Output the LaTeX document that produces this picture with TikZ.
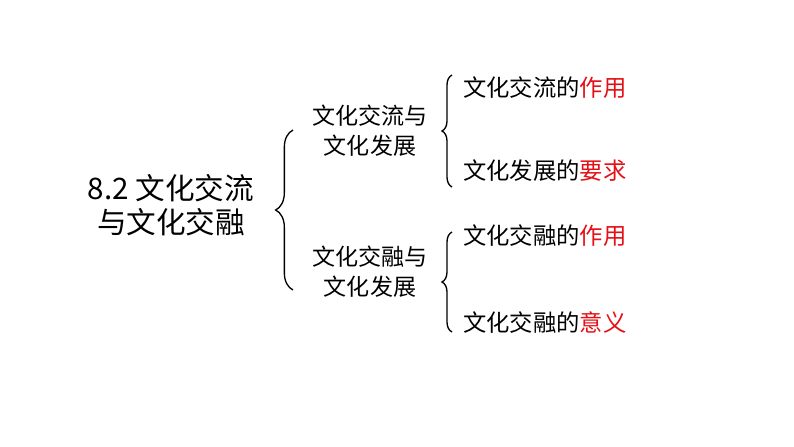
\documentclass[tikz,border=0pt]{standalone}
\usepackage{fontspec}
\setmainfont{Noto Sans CJK SC}
\usetikzlibrary{decorations.pathreplacing}
\definecolor{hl}{RGB}{228,16,22}
\tikzset{
  bigtxt/.style={align=center,inner sep=0pt,font=\fontsize{22.2}{25.5}\selectfont},
  midtxt/.style={align=center,inner sep=0pt,font=\fontsize{17.3}{22.5}\selectfont},
  leaftxt/.style={anchor=west,inner sep=0pt,font=\fontsize{17.5}{20}\selectfont},
  bigbrace/.style={draw,line width=1pt,decorate,decoration={brace,amplitude=13pt}},
  smallbrace/.style={draw,line width=1pt,decorate,decoration={brace,amplitude=7.5pt}}
}
\begin{document}
\begin{tikzpicture}[x=0.75pt,y=-0.75pt]
\useasboundingbox (0,0) rectangle (794,447);
\node[bigtxt] (root) at (171,205) {8.2 文化交流\\与文化交融};
\node[midtxt] (m1) at (370,131) {文化交流与\\文化发展};
\node[midtxt] (m2) at (370,272) {文化交融与\\文化发展};
\node[leaftxt] (l1) at (463,88) {文化交流的\textcolor{hl}{作用}};
\node[leaftxt] (l2) at (463,171) {文化发展的\textcolor{hl}{要求}};
\node[leaftxt] (l3) at (463,236) {文化交融的\textcolor{hl}{作用}};
\node[leaftxt] (l4) at (463,323) {文化交融的\textcolor{hl}{意义}};
\coordinate (b1t) at (293,130);
\coordinate (b1b) at (293,290);
\coordinate (b2t) at (452,75);
\coordinate (b2b) at (452,187);
\coordinate (b3t) at (452,232);
\coordinate (b3b) at (452,332);
\path[bigbrace] (b1b) -- (b1t);
\path[smallbrace] (b2b) -- (b2t);
\path[smallbrace] (b3b) -- (b3t);
\end{tikzpicture}
\end{document}
